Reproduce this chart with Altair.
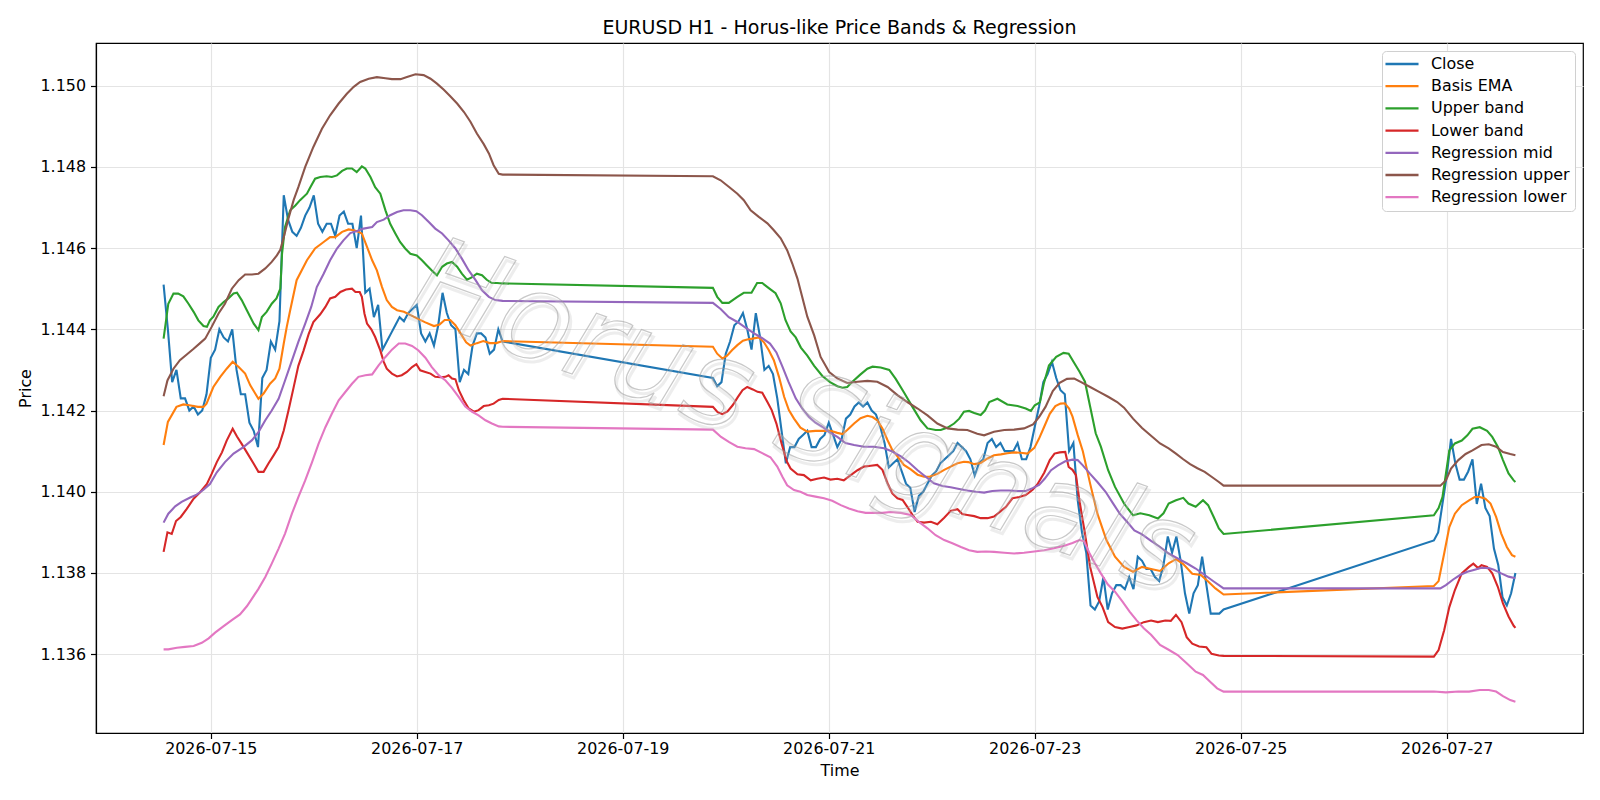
import altair as alt
import pandas as pd

TITLE = "EURUSD H1 - Horus-like Price Bands & Regression"
SERIES = ["Close", "Basis EMA", "Upper band", "Lower band",
          "Regression mid", "Regression upper", "Regression lower"]
COLORS = ["#1f77b4", "#ff7f0e", "#2ca02c", "#d62728", "#9467bd", "#8c564b", "#e377c2"]
TICK_DAYS = [15, 17, 19, 21, 23, 25, 27]
Y_TICKS = [1.136, 1.138, 1.140, 1.142, 1.144, 1.146, 1.148, 1.150]
WATERMARK = "Horus Signals"

# hours after 2026-07-14 00:00 (three trading sessions)
close_hours = list(range(13, 93)) + list(range(141, 261)) + list(range(309, 329))
close_values = [
    1.1451, 1.1440, 1.1427, 1.1430, 1.1423, 1.1423, 1.1420, 1.1421, 1.1419, 1.1420,
    1.1424, 1.1433, 1.1435, 1.1440, 1.1438, 1.1437, 1.1440, 1.1430, 1.1424, 1.1424,
    1.1417, 1.1415, 1.1411, 1.1428, 1.1430, 1.1437, 1.1435, 1.1442, 1.1473, 1.1467,
    1.1464, 1.1463, 1.1465, 1.1468, 1.1470, 1.1473, 1.1466, 1.1464, 1.1466, 1.1466,
    1.1463, 1.1468, 1.1469, 1.1466, 1.1466, 1.1460, 1.1468, 1.1449, 1.1450, 1.1443,
    1.1446, 1.1435, 1.1437, 1.1439, 1.1441, 1.1443, 1.1442, 1.1444, 1.1445, 1.1446,
    1.1439, 1.1437, 1.1439, 1.1436, 1.1441, 1.1449, 1.1444, 1.1441, 1.1440, 1.1427,
    1.1430, 1.1429, 1.1436, 1.1439, 1.1439, 1.1438, 1.1434, 1.1435, 1.1440, 1.1437,
    # week 2
    1.1428, 1.1426, 1.1427, 1.1434, 1.1437, 1.1441, 1.1442, 1.1444, 1.1440, 1.1435,
    1.1444, 1.1438, 1.1430, 1.1431, 1.1429, 1.1423, 1.1415, 1.1407, 1.1411, 1.1411,
    1.1413, 1.1414, 1.1415, 1.1411, 1.1411, 1.1413, 1.1414, 1.1417, 1.1414, 1.1411,
    1.1413, 1.1418, 1.1419, 1.1421, 1.1422, 1.1421, 1.1422, 1.1420, 1.1419, 1.1416,
    1.1412, 1.1406, 1.1407, 1.1408, 1.1405, 1.1402, 1.1401, 1.1395, 1.1399, 1.1400,
    1.1402, 1.1404, 1.1405, 1.1407, 1.1408, 1.1409, 1.1410, 1.1412, 1.1411, 1.1410,
    1.1408, 1.1404, 1.1407, 1.1408, 1.1412, 1.1413, 1.1411, 1.1412, 1.1410, 1.1410,
    1.1410, 1.1412, 1.1408, 1.1408, 1.1411, 1.1416, 1.1421, 1.1427, 1.1429, 1.1432,
    1.1428, 1.1425, 1.1424, 1.1410, 1.1412, 1.1398, 1.1390, 1.1385, 1.1372, 1.1371,
    1.1373, 1.1379, 1.1371, 1.1375, 1.1377, 1.1377, 1.1376, 1.1379, 1.1376, 1.1384,
    1.1383, 1.1381, 1.1381, 1.1379, 1.1378, 1.1382, 1.1389, 1.1385, 1.1389, 1.1383,
    1.1375, 1.1370, 1.1375, 1.1377, 1.1384, 1.1377, 1.1370, 1.1370, 1.1370, 1.1371,
    # week 3
    1.1388, 1.1390, 1.1397, 1.1404, 1.1413, 1.1407, 1.1403, 1.1403, 1.1405, 1.1408,
    1.1397, 1.1402, 1.1396, 1.1394, 1.1386, 1.1382, 1.1374, 1.1372, 1.1375, 1.1380,
]

basis_ema = [
    (13, 1.14115), (14, 1.14172), (16, 1.14209), (17.6, 1.14215), (19, 1.14213), (21, 1.14209),
    (22.3, 1.14209), (23, 1.14217), (24.6, 1.14258), (26.2, 1.14283), (27.7, 1.14303), (29.1, 1.14320),
    (30.5, 1.14307), (32, 1.14291), (33.2, 1.14262), (35.1, 1.14229), (36.3, 1.14242), (37.8, 1.14266),
    (39, 1.14279), (40, 1.14303), (41, 1.14365), (41.7, 1.14406), (42.5, 1.14447), (44, 1.14521),
    (46.4, 1.14570), (48.3, 1.14599), (50.3, 1.14615), (51.8, 1.14627), (53, 1.14627), (54.6, 1.14640),
    (56.1, 1.14646), (57.3, 1.14644), (58.4, 1.14640), (59.2, 1.14636), (60.4, 1.14603), (61.6, 1.14570),
    (62.7, 1.14545), (63.9, 1.14504), (65, 1.14472), (66.2, 1.14455), (67.4, 1.14447), (69, 1.14443),
    (70.9, 1.14433), (72.4, 1.14425), (74, 1.14417), (76, 1.14408), (77.3, 1.14412), (78.5, 1.14423),
    (79.8, 1.14423), (81, 1.14410), (82.2, 1.14390), (83.5, 1.14368), (84.5, 1.14360), (86, 1.14366),
    (87.5, 1.14371), (89, 1.14366), (90.5, 1.14366), (92, 1.14371),
    (141, 1.14357), (142, 1.14340), (143.2, 1.14328), (144.3, 1.14335), (145.5, 1.14349), (146.7, 1.14361),
    (148, 1.14372), (149, 1.14375), (150.2, 1.14377), (151.7, 1.14380), (152.9, 1.14368), (154, 1.14349),
    (155.2, 1.14324), (156.4, 1.14283), (157.6, 1.14234), (158.7, 1.14201), (159.9, 1.14180), (161.4, 1.14158),
    (163, 1.14148), (164.9, 1.14150), (166.9, 1.14150), (168.4, 1.14150), (170, 1.14145), (171.2, 1.14142),
    (172.3, 1.14152), (173.9, 1.14168), (175.4, 1.14181), (177, 1.14187), (178.2, 1.14184), (179.3, 1.14176),
    (180.5, 1.14156), (181.7, 1.14127), (182.8, 1.14103), (184, 1.14087), (185.5, 1.14066), (187.1, 1.14055),
    (188.7, 1.14042), (190.2, 1.14037), (191.5, 1.14037), (193.3, 1.14044), (194.9, 1.14054), (196.4, 1.14062),
    (198, 1.14070), (199.5, 1.14074), (200.5, 1.14073), (201.9, 1.14068), (203.4, 1.14071), (205, 1.14082),
    (206.5, 1.14090), (208.1, 1.14092), (209.6, 1.14095), (211.2, 1.14097), (212.7, 1.14096), (214.3, 1.14094),
    (215.9, 1.14108), (217, 1.14131), (218.2, 1.14160), (219.5, 1.14192), (220.8, 1.14211), (222, 1.14217),
    (223, 1.14218), (224, 1.14205), (224.8, 1.14185), (226, 1.14140), (227.2, 1.14100), (228.9, 1.14020),
    (230.6, 1.13946), (232.7, 1.13881), (234.7, 1.13840), (236.8, 1.13815), (238.9, 1.13803), (241, 1.13815),
    (243.1, 1.13810), (245.2, 1.13805), (247.2, 1.13824), (248.9, 1.13834), (250.6, 1.13822), (252.7, 1.13798),
    (254.7, 1.13795), (256.4, 1.13779), (258.1, 1.13762), (260, 1.13747),
    (309, 1.13768), (310.1, 1.13780), (311.4, 1.13848), (312.6, 1.13913), (313.9, 1.13946), (315.5, 1.13967),
    (317.2, 1.13979), (318.5, 1.13987), (319.7, 1.13987), (321, 1.13983), (322.2, 1.13971), (323.5, 1.13938),
    (324.7, 1.13897), (326, 1.13864), (327.2, 1.13844), (328, 1.13840),
]

upper_band = [
    (13, 1.14377), (14.1, 1.14463), (15.3, 1.14488), (16.4, 1.14488), (17.6, 1.14481), (18.8, 1.14463),
    (20, 1.14443), (21.1, 1.14422), (22.3, 1.14408), (23.1, 1.14406), (23.8, 1.14422), (24.6, 1.14431),
    (25.8, 1.14455), (27, 1.14467), (28.1, 1.14476), (29.3, 1.14488), (30.1, 1.14490), (31.2, 1.14472),
    (32.4, 1.14447), (34, 1.14414), (35.1, 1.14398), (35.9, 1.14430), (37, 1.14443), (38.2, 1.14463),
    (39.3, 1.14476), (40.2, 1.14500), (40.6, 1.14586), (41.3, 1.14652), (42.5, 1.14693), (43.7, 1.14705),
    (44.8, 1.14718), (46.4, 1.14734), (47.2, 1.14750), (48.3, 1.14771), (49.5, 1.14775), (51, 1.14777),
    (52.2, 1.14775), (53.4, 1.14779), (54.6, 1.14790), (55.7, 1.14796), (56.9, 1.14796), (58, 1.14787),
    (59.2, 1.14801), (60, 1.14796), (61.2, 1.14775), (62.3, 1.14750), (63.5, 1.14734), (64.7, 1.14693),
    (65.8, 1.14660), (67, 1.14636), (68.1, 1.14615), (69.3, 1.14599), (70.5, 1.14586), (72, 1.14582),
    (73.2, 1.14570), (74.3, 1.14558), (75.5, 1.14545), (76.7, 1.14533), (77.9, 1.14554), (79, 1.14562),
    (80.2, 1.14566), (81.4, 1.14554), (82.5, 1.14537), (83.7, 1.14522), (84.8, 1.14528), (86, 1.14537),
    (87.2, 1.14533), (88.3, 1.14522), (89.5, 1.14514), (90.7, 1.14514), (92, 1.14513),
    (141, 1.14502), (142, 1.14480), (143.2, 1.14465), (144.7, 1.14465), (146.7, 1.14480), (148.2, 1.14490),
    (150, 1.14490), (151.3, 1.14514), (152.5, 1.14514), (154.1, 1.14501), (155.6, 1.14489), (156.8, 1.14464),
    (157.9, 1.14423), (159.1, 1.14395), (160.3, 1.14380), (161.5, 1.14355), (163, 1.14335), (164.6, 1.14310),
    (166.5, 1.14285), (168.3, 1.14270), (170, 1.14260), (171.2, 1.14256), (172.3, 1.14258), (173.5, 1.14271),
    (175.4, 1.14289), (177, 1.14303), (178.2, 1.14308), (180.1, 1.14306), (182.1, 1.14300), (183.6, 1.14278),
    (185.5, 1.14245), (187.5, 1.14209), (189.4, 1.14176), (191, 1.14156), (192.9, 1.14152), (194.1, 1.14152),
    (195.7, 1.14158), (197.2, 1.14168), (198.4, 1.14180), (199.5, 1.14197), (200.7, 1.14199), (201.9, 1.14194),
    (203.4, 1.14189), (204.4, 1.14200), (205.4, 1.14221), (207.3, 1.14229), (209.6, 1.14215), (212, 1.14211),
    (213.9, 1.14205), (215.1, 1.14199), (216, 1.14213), (217.2, 1.14220), (218.1, 1.14266), (219.3, 1.14311),
    (221, 1.14332), (222.7, 1.14342), (223.9, 1.14340), (225.2, 1.14317), (226.4, 1.14296), (227.7, 1.14271),
    (228.9, 1.14210), (230.2, 1.14144), (231.4, 1.14111), (233.1, 1.14053), (234.7, 1.14012), (236.8, 1.13971),
    (238.9, 1.13942), (240.6, 1.13947), (242.7, 1.13942), (244.7, 1.13934), (246, 1.13947), (247.2, 1.13971),
    (248.9, 1.13979), (250.6, 1.13985), (251.8, 1.13971), (253.5, 1.13963), (255.2, 1.13979), (256.4, 1.13967),
    (257.7, 1.13938), (258.9, 1.13910), (260, 1.13896),
    (309, 1.13942), (310.1, 1.13960), (311, 1.13987), (311.8, 1.14044), (312.6, 1.14102), (313.9, 1.14119),
    (315.5, 1.14126), (316.8, 1.14139), (318, 1.14155), (319.7, 1.14159), (321.4, 1.14150), (322.6, 1.14135),
    (323.9, 1.14111), (325.1, 1.14078), (326.4, 1.14045), (327.6, 1.14028), (328, 1.14024),
]

lower_band = [
    (13, 1.13852), (13.9, 1.13900), (14.9, 1.13896), (15.9, 1.13928), (17, 1.13938), (18.4, 1.13958),
    (20, 1.13983), (21.5, 1.13999), (23.1, 1.14019), (24.2, 1.14044), (25.4, 1.14073), (26.6, 1.14097),
    (27.7, 1.14126), (29.1, 1.14155), (30.1, 1.14136), (31.2, 1.14118), (32.4, 1.14097), (34, 1.14069),
    (35.1, 1.14049), (36.3, 1.14049), (37.4, 1.14069), (38.6, 1.14089), (39.8, 1.14110), (41, 1.14151),
    (42.1, 1.14200), (43.3, 1.14257), (44.4, 1.14310), (45.6, 1.14347), (46.8, 1.14388), (47.9, 1.14418),
    (49.5, 1.14437), (50.7, 1.14455), (51.8, 1.14476), (53, 1.14480), (54.2, 1.14492), (55.5, 1.14498),
    (56.9, 1.14500), (57.7, 1.14492), (58.7, 1.14492), (59.2, 1.14480), (59.8, 1.14439), (60.4, 1.14414),
    (61.4, 1.14400), (62.3, 1.14381), (63.5, 1.14348), (64.3, 1.14320), (65, 1.14303), (66.2, 1.14291),
    (67.4, 1.14284), (68.5, 1.14287), (69.7, 1.14295), (70.9, 1.14307), (71.9, 1.14314), (72.8, 1.14299),
    (74, 1.14295), (75.2, 1.14291), (76.3, 1.14283), (77.5, 1.14282), (78.7, 1.14283), (79.4, 1.14287),
    (80.2, 1.14279), (81, 1.14277), (81.8, 1.14250), (82.9, 1.14226), (84.1, 1.14205), (85.3, 1.14197),
    (86.4, 1.14201), (87.6, 1.14211), (88.8, 1.14213), (89.9, 1.14217), (91.1, 1.14226), (92, 1.14229),
    (141, 1.14209), (142.1, 1.14196), (143.2, 1.14191), (144.4, 1.14198), (145.6, 1.14213), (146.8, 1.14233),
    (147.9, 1.14250), (149, 1.14258), (150.3, 1.14252), (151.4, 1.14246), (152.5, 1.14244), (153.7, 1.14221),
    (154.7, 1.14201), (155.8, 1.14168), (157, 1.14119), (158.2, 1.14075), (159.1, 1.14057), (160.7, 1.14043),
    (162.2, 1.14041), (163.8, 1.14028), (165.3, 1.14032), (166.9, 1.14035), (168.4, 1.14030), (170, 1.14032),
    (171.5, 1.14028), (173.1, 1.14041), (174.7, 1.14053), (176.2, 1.14062), (177.8, 1.14064), (179.3, 1.14066),
    (180.5, 1.14054), (181.7, 1.14021), (182.8, 1.13996), (184, 1.13984), (185.2, 1.13980), (186.3, 1.13963),
    (187.5, 1.13943), (188.7, 1.13926), (190.2, 1.13924), (191.8, 1.13926), (193.3, 1.13920), (194.9, 1.13936),
    (196.4, 1.13953), (198, 1.13957), (199.1, 1.13945), (200.3, 1.13943), (201.9, 1.13940), (203.4, 1.13935),
    (205, 1.13935), (206.5, 1.13939), (207.7, 1.13949), (209.3, 1.13963), (210.8, 1.13984), (212.4, 1.13987),
    (213.9, 1.13992), (215.5, 1.14005), (216.6, 1.14018), (218.2, 1.14047), (219.5, 1.14078), (220.6, 1.14094),
    (221.8, 1.14097), (223.1, 1.14098), (223.9, 1.14061), (224.8, 1.14054), (225.6, 1.14041), (226.4, 1.13979),
    (227.7, 1.13897), (228.9, 1.13815), (230.6, 1.13741), (231.8, 1.13716), (233.1, 1.13679), (234.7, 1.13667),
    (236.4, 1.13663), (238.1, 1.13667), (239.7, 1.13671), (241.4, 1.13679), (243.1, 1.13683), (244.7, 1.13679),
    (246.4, 1.13683), (247.7, 1.13682), (248.9, 1.13697), (250.2, 1.13679), (251.4, 1.13642), (252.7, 1.13626),
    (254.3, 1.13619), (256, 1.13617), (257.2, 1.13601), (258.9, 1.13597), (260, 1.13596),
    (309, 1.13594), (310.1, 1.13610), (311.4, 1.13659), (312.6, 1.13716), (313.9, 1.13758), (315.5, 1.13799),
    (317.2, 1.13815), (318.2, 1.13823), (319.3, 1.13812), (320.1, 1.13819), (321.4, 1.13815), (322.6, 1.13799),
    (323.9, 1.13766), (325.1, 1.13725), (326.4, 1.13693), (327.6, 1.13670), (328, 1.13665),
]

regression_mid = [
    (13, 1.13924), (14.1, 1.13946), (15.7, 1.13964), (17.2, 1.13975), (19.2, 1.13986), (20.7, 1.13993),
    (22.3, 1.14005), (23.8, 1.14019), (25.4, 1.14048), (27.3, 1.14073), (29.3, 1.14094), (31.6, 1.14110),
    (33.6, 1.14127), (35.1, 1.14147), (36.7, 1.14176), (38.2, 1.14200), (39.8, 1.14229), (41.3, 1.14274),
    (42.9, 1.14323), (44.4, 1.14369), (46, 1.14414), (47.4, 1.14455), (48.7, 1.14504), (50.3, 1.14537),
    (51.8, 1.14570), (53.4, 1.14599), (54.9, 1.14619), (56.5, 1.14637), (58.1, 1.14642), (59.6, 1.14648),
    (61.6, 1.14652), (62.7, 1.14664), (64.3, 1.14670), (65.8, 1.14681), (67.4, 1.14689), (68.9, 1.14693),
    (70.5, 1.14693), (71.9, 1.14691), (73.2, 1.14681), (74.8, 1.14664), (76.3, 1.14648), (77.9, 1.14636),
    (79.4, 1.14619), (81, 1.14599), (82.5, 1.14574), (84.1, 1.14545), (85.7, 1.14521), (87.2, 1.14496),
    (88.8, 1.14480), (90.3, 1.14472), (92, 1.14470),
    (141, 1.14465), (142.8, 1.14450), (144.7, 1.14430), (146.7, 1.14418), (148.6, 1.14404), (150.6, 1.14390),
    (152.5, 1.14378), (154.3, 1.14365), (155.8, 1.14343), (157.2, 1.14308), (158.6, 1.14271), (160.3, 1.14230),
    (161.8, 1.14205), (163.4, 1.14184), (164.9, 1.14170), (166.5, 1.14160), (168.1, 1.14147), (170, 1.14135),
    (171.9, 1.14120), (173.9, 1.14115), (176.2, 1.14111), (178.5, 1.14111), (180.9, 1.14107), (182.8, 1.14099),
    (184.8, 1.14087), (186.7, 1.14072), (188.7, 1.14053), (190.6, 1.14037), (192.5, 1.14021), (194.5, 1.14014),
    (196.4, 1.14011), (198.4, 1.14007), (200.3, 1.14003), (202.3, 1.14000), (204.2, 1.13998), (206.1, 1.14002),
    (208.1, 1.14003), (210, 1.14003), (212, 1.14002), (213.9, 1.14002), (215.5, 1.14009), (217, 1.14017),
    (218.3, 1.14032), (219.8, 1.14053), (221.4, 1.14065), (223.1, 1.14075), (224.8, 1.14079), (226, 1.14078),
    (227.2, 1.14065), (228.9, 1.14044), (230.6, 1.14024), (232.5, 1.14000), (234.2, 1.13972), (235.8, 1.13946),
    (237.5, 1.13926), (239.2, 1.13905), (241, 1.13895), (243.1, 1.13879), (245.2, 1.13864), (247.2, 1.13848),
    (249.3, 1.13836), (251.4, 1.13824), (253.5, 1.13811), (255.6, 1.13795), (257.7, 1.13779), (260, 1.13762),
    (309, 1.13762), (310.5, 1.13762), (311.8, 1.13770), (313.5, 1.13784), (315.1, 1.13795), (316.8, 1.13803),
    (318.5, 1.13808), (320.1, 1.13813), (321.8, 1.13812), (323, 1.13808), (324.7, 1.13799), (326.4, 1.13791),
    (328, 1.13787),
]

regression_upper = [
    (13, 1.14235), (13.9, 1.14274), (15.3, 1.14303), (16.8, 1.14324), (18.4, 1.14338), (20, 1.14352),
    (21.5, 1.14366), (22.7, 1.14377), (24.2, 1.14406), (25.8, 1.14439), (27.3, 1.14463), (28.9, 1.14500),
    (30.5, 1.14521), (32, 1.14535), (33.6, 1.14535), (35.1, 1.14537), (36.7, 1.14550), (38.2, 1.14566),
    (39.4, 1.14582), (40.2, 1.14596), (41, 1.14627), (42.1, 1.14673), (43.3, 1.14718), (44.4, 1.14750),
    (46, 1.14800), (47.9, 1.14849), (49.9, 1.14894), (51.8, 1.14927), (53.8, 1.14956), (55.7, 1.14980),
    (57.3, 1.14997), (58.8, 1.15009), (60.8, 1.15017), (62.7, 1.15021), (64.7, 1.15018), (66.2, 1.15016),
    (68.2, 1.15016), (69.7, 1.15021), (71.7, 1.15028), (73.6, 1.15026), (75.2, 1.15017), (76.7, 1.15005),
    (78.3, 1.14990), (79.8, 1.14974), (81.4, 1.14956), (83, 1.14935), (84.5, 1.14911), (86, 1.14882),
    (87.6, 1.14856), (88.8, 1.14833), (89.9, 1.14804), (91.1, 1.14783), (92, 1.14781),
    (141, 1.14777), (142.8, 1.14767), (144.7, 1.14751), (146.7, 1.14734), (148.2, 1.14718), (149.8, 1.14693),
    (151.7, 1.14677), (153.7, 1.14661), (155.2, 1.14644), (156.8, 1.14624), (158.3, 1.14595), (159.5, 1.14562),
    (160.7, 1.14525), (161.8, 1.14480), (163, 1.14431), (164.6, 1.14385), (166.1, 1.14332), (168.1, 1.14295),
    (170, 1.14279), (172.3, 1.14268), (174.7, 1.14271), (177, 1.14273), (179.3, 1.14271), (181.7, 1.14258),
    (184, 1.14238), (186.3, 1.14221), (188.7, 1.14205), (191, 1.14188), (193.3, 1.14168), (195.7, 1.14156),
    (198, 1.14153), (200.3, 1.14152), (202.6, 1.14143), (204.2, 1.14139), (206.5, 1.14148), (208.9, 1.14152),
    (211.2, 1.14153), (213.5, 1.14156), (215.6, 1.14166), (217, 1.14184), (218.5, 1.14209), (220.2, 1.14248),
    (221.8, 1.14268), (223.5, 1.14278), (225.2, 1.14279), (226.8, 1.14270), (228.9, 1.14258), (231, 1.14246),
    (233.1, 1.14234), (235.2, 1.14221), (236.8, 1.14207), (238.9, 1.14180), (241, 1.14157), (243.1, 1.14138),
    (245.2, 1.14119), (247.2, 1.14107), (248.9, 1.14094), (250.6, 1.14080), (252.2, 1.14068), (253.9, 1.14058),
    (255.6, 1.14049), (257.2, 1.14037), (258.9, 1.14024), (260, 1.14015),
    (309, 1.14015), (310.5, 1.14015), (311.8, 1.14028), (313, 1.14057), (314.7, 1.14078), (316.4, 1.14093),
    (318, 1.14102), (320.1, 1.14115), (321.8, 1.14117), (323.5, 1.14111), (325.1, 1.14098), (326.8, 1.14093),
    (328, 1.14090),
]

regression_lower = [
    (13, 1.13612), (14.1, 1.13612), (16.1, 1.13616), (18, 1.13618), (20, 1.13620), (21.9, 1.13628),
    (23.5, 1.13639), (25, 1.13653), (27, 1.13669), (28.9, 1.13684), (30.8, 1.13698), (32.4, 1.13718),
    (33.6, 1.13737), (35.1, 1.13761), (36.7, 1.13790), (38.2, 1.13823), (39.8, 1.13860), (41.3, 1.13897),
    (42.9, 1.13946), (44.4, 1.13987), (46, 1.14028), (47.6, 1.14073), (49.1, 1.14118), (50.7, 1.14159),
    (52.2, 1.14192), (53.8, 1.14225), (55.3, 1.14245), (56.9, 1.14266), (58.4, 1.14283), (60, 1.14287),
    (61.6, 1.14289), (63.1, 1.14311), (64.7, 1.14332), (66.2, 1.14350), (67.8, 1.14365), (69.3, 1.14365),
    (70.9, 1.14359), (72.4, 1.14348), (74, 1.14330), (75.5, 1.14307), (77.1, 1.14287), (78.7, 1.14274),
    (80.2, 1.14256), (81.8, 1.14233), (83.3, 1.14210), (84.9, 1.14197), (86.4, 1.14188), (88, 1.14176),
    (89.5, 1.14168), (91.1, 1.14161), (92, 1.14160),
    (141, 1.14153), (142.9, 1.14135), (144.8, 1.14122), (146.7, 1.14111), (148.6, 1.14107), (150.6, 1.14105),
    (152.5, 1.14095), (154.4, 1.14085), (156, 1.14062), (157.2, 1.14037), (158.3, 1.14016), (159.9, 1.14004),
    (161.4, 1.14000), (163, 1.13992), (164.9, 1.13988), (166.9, 1.13984), (168.8, 1.13978), (170.8, 1.13967),
    (172.7, 1.13959), (174.7, 1.13952), (176.6, 1.13948), (178.5, 1.13948), (180.5, 1.13948), (182.4, 1.13950),
    (184.8, 1.13948), (187.1, 1.13943), (189, 1.13926), (191, 1.13910), (192.9, 1.13893), (194.9, 1.13881),
    (196.8, 1.13873), (198.8, 1.13864), (200.7, 1.13856), (202.6, 1.13852), (204.6, 1.13853), (206.5, 1.13852),
    (208.9, 1.13850), (211.2, 1.13848), (213.5, 1.13850), (215.9, 1.13853), (218.2, 1.13856), (220.5, 1.13861),
    (222.9, 1.13867), (224.8, 1.13874), (226.4, 1.13881), (227.5, 1.13878), (228.7, 1.13850), (229.9, 1.13826),
    (231.4, 1.13799), (233, 1.13772), (234.7, 1.13754), (236.4, 1.13730), (238.1, 1.13705), (239.7, 1.13684),
    (241.4, 1.13664), (243.1, 1.13648), (245.2, 1.13623), (247.2, 1.13611), (249.3, 1.13598), (251.4, 1.13578),
    (253.5, 1.13557), (255.2, 1.13549), (256.8, 1.13533), (258.5, 1.13516), (260, 1.13508),
    (309, 1.13508), (311.8, 1.13506), (314.7, 1.13508), (317.2, 1.13508), (319.7, 1.13512), (321.8, 1.13512),
    (323.5, 1.13508), (325.1, 1.13497), (326.8, 1.13487), (328, 1.13483),
]

BASE = pd.Timestamp("2026-07-14 00:00:00")


def stamp(h):
    return (BASE + pd.Timedelta(hours=h)).strftime("%Y-%m-%dT%H:%M:%S")


rows = []
for i, (h, v) in enumerate(zip(close_hours, close_values)):
    rows.append({"series": "Close", "i": i, "t": stamp(h), "price": v})
for name, pts in [("Basis EMA", basis_ema), ("Upper band", upper_band),
                  ("Lower band", lower_band), ("Regression mid", regression_mid),
                  ("Regression upper", regression_upper), ("Regression lower", regression_lower)]:
    for i, (h, v) in enumerate(pts):
        rows.append({"series": name, "i": i, "t": stamp(h), "price": v})
df = pd.DataFrame(rows)

wm_df = pd.DataFrame({"t": [stamp(161.8)], "price": [1.14178], "label": [WATERMARK]})


def dt(day, hours=0, minutes=0):
    return alt.DateTime(year=2026, month=7, date=day, hours=hours, minutes=minutes)


x_enc = alt.X(
    "t:T", title="Time",
    scale=alt.Scale(domain=[dt(13, 21, 15), dt(28, 7, 45)], nice=False),
    axis=alt.Axis(values=[dt(d) for d in TICK_DAYS], format="%Y-%m-%d", grid=True,
                  titlePadding=6, labelAngle=0, labelPadding=2),
)
y_enc = alt.Y(
    "price:Q", title="Price",
    scale=alt.Scale(domain=[1.13406, 1.15105], nice=False, zero=False),
    axis=alt.Axis(values=Y_TICKS, format=".3f", grid=True, titlePadding=7, labelPadding=5),
)

lines = alt.Chart(df).mark_line(strokeWidth=2.1).encode(
    x=x_enc,
    y=y_enc,
    color=alt.Color(
        "series:N",
        scale=alt.Scale(domain=SERIES, range=COLORS),
        legend=alt.Legend(
            title=None, orient="top-right", offset=8,
            symbolType="M-2.43,0L2.43,0", symbolSize=185, symbolStrokeWidth=2.3,
            symbolOffset=7, labelFontSize=15.9,
            labelFont="DejaVu Sans", labelColor="black", labelOffset=21,
            fillColor="white", strokeColor="#d0d0d0", cornerRadius=4,
            padding=5, rowPadding=6.2, labelLimit=400,
        ),
    ),
    order=alt.Order("i:Q"),
)

wm_shadow = alt.Chart(wm_df).mark_text(
    angle=20, fontSize=120, font="DejaVu Sans", fontStyle="italic",
    fillOpacity=0, stroke="#c4c4c4", strokeWidth=3, strokeOpacity=0.3,
    align="center", baseline="middle", dx=3, dy=3,
).encode(x=x_enc, y=y_enc, text="label:N")

wm = alt.Chart(wm_df).mark_text(
    angle=20, fontSize=120, font="DejaVu Sans", fontStyle="italic",
    fillOpacity=0, stroke="#9a9a9a", strokeWidth=1.2, strokeOpacity=0.55,
    align="center", baseline="middle",
).encode(x=x_enc, y=y_enc, text="label:N")

chart = alt.layer(lines, wm_shadow, wm).properties(
    width=1487, height=690,
    title=alt.TitleParams(TITLE, fontSize=19, font="DejaVu Sans", fontWeight="normal",
                          anchor="middle", offset=5, color="black"),
    autosize=alt.AutoSizeParams(type="none"),
    padding={"left": 96, "top": 43, "right": 17, "bottom": 67},
    background="white",
).configure_view(
    stroke="black", strokeWidth=1.2,
).configure_axis(
    labelFont="DejaVu Sans", labelFontSize=15.9, labelColor="black",
    titleFont="DejaVu Sans", titleFontSize=15.9, titleFontWeight="normal", titleColor="black",
    tickColor="black", tickSize=5.5, tickWidth=1.2, domainColor="black", domainWidth=1.2,
    gridColor="#e4e4e4", gridWidth=1.2,
)

chart.save("out.html", embed_options={"renderer": "svg", "actions": False})
